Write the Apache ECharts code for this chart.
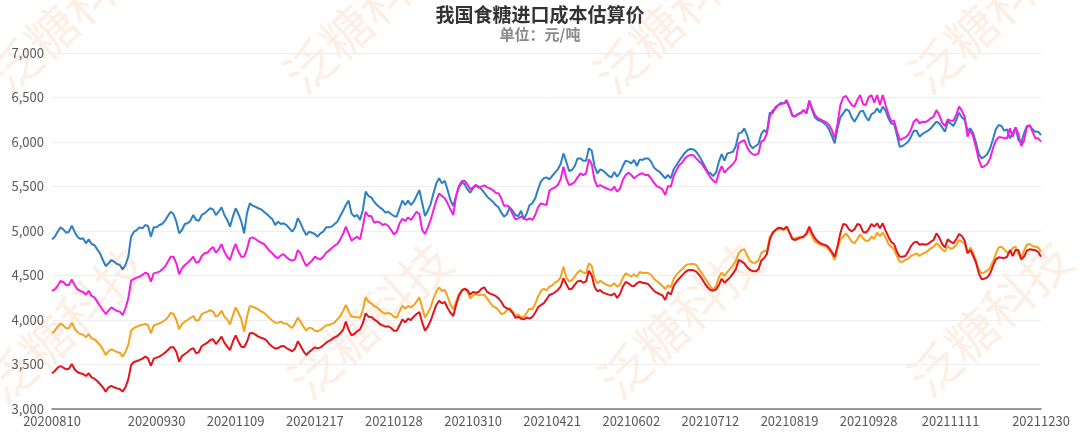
<!DOCTYPE html>
<html>
<head>
<meta charset="utf-8">
<script src="https://cdn.jsdelivr.net/npm/echarts@6/dist/echarts.min.js"></script>
<style>html,body{margin:0;padding:0;background:#fff;}#c{width:1080px;height:436px;}</style>
</head>
<body>
<div id="c"></div>
<script>
// ---- data ----
const START_DATE = '2020-08-10';
const END_DATE = '2021-12-30';
const HOLIDAYS = ['20201225','20210101','20210215','20210402','20210405','20210503','20210531',
  '20211001','20211004','20211005','20211224','20211227','20211228'];
const TICK_LABELS = ['20200810','20200930','20201109','20201217','20210128','20210310','20210421',
  '20210602','20210712','20210819','20210928','20211111','20211230'];
const Y_TICKS = [3000, 3500, 4000, 4500, 5000, 5500, 6000, 6500, 7000];

const blueSeries = [
4906,4936,4992,5041,5019,4981,4992,5060,4992,4936,
4910,4918,4861,4906,4854,4843,4794,4749,4674,4607,
4637,4674,4655,4629,4618,4569,4618,4711,4936,4992,
5011,5041,5030,5067,5056,4936,5041,5041,5067,5079,
5116,5168,5217,5191,5105,4974,5011,5079,5086,5116,
5180,5124,5116,5180,5198,5228,5255,5243,5180,5217,
5266,5180,5124,5049,5161,5255,5191,5105,4974,5198,
5311,5285,5273,5255,5243,5217,5191,5161,5131,5067,
5105,5079,5086,5067,5030,4992,5041,5142,5086,5011,
4955,4992,4981,4966,4936,4974,4992,5041,5041,5049,
5079,5105,5168,5228,5292,5341,5198,5161,5180,5124,
5236,5442,5393,5378,5329,5292,5266,5243,5206,5217,
5191,5168,5161,5255,5341,5292,5341,5292,5329,5393,
5460,5318,5168,5228,5303,5423,5535,5592,5535,5565,
5460,5348,5281,5393,5490,5543,5528,5468,5430,5479,
5517,5498,5468,5430,5386,5356,5329,5292,5266,5206,
5161,5191,5266,5228,5180,5168,5228,5131,5198,5292,
5311,5367,5468,5554,5592,5603,5580,5618,5655,5693,
5753,5872,5779,5674,5685,5730,5816,5816,5790,5790,
5929,5902,5730,5648,5693,5678,5648,5618,5603,5663,
5610,5655,5730,5790,5779,5760,5798,5730,5805,5798,
5816,5816,5779,5715,5685,5666,5629,5592,5629,5592,
5693,5741,5790,5835,5880,5910,5921,5917,5891,5842,
5790,5730,5666,5648,5618,5655,5779,5865,5790,5872,
5880,5891,5955,6097,6105,6153,6078,5966,5929,5955,
5977,6090,6135,6105,6329,6322,6389,6415,6442,6434,
6449,6389,6303,6284,6314,6322,6359,6322,6464,6359,
6277,6247,6236,6217,6191,6142,6067,5985,6153,6277,
6322,6367,6352,6277,6228,6284,6341,6352,6284,6240,
6314,6329,6378,6329,6397,6352,6266,6209,6202,6078,
5947,5955,5977,6003,6060,6127,6127,6060,6090,6108,
6127,6153,6191,6228,6209,6164,6116,6228,6209,6180,
6247,6329,6277,6247,6127,6153,6097,5992,5865,5816,
5835,5865,5929,6030,6142,6191,6180,6127,6142,6041,
6097,6164,6022,5992,6097,6180,6180,6142,6116,6116,6078];

const magentaSeries = [
4326,4344,4382,4438,4427,4393,4393,4457,4393,4344,
4326,4314,4284,4329,4270,4255,4206,4157,4112,4067,
4105,4142,4120,4101,4094,4056,4131,4243,4442,4461,
4476,4487,4506,4532,4517,4431,4524,4532,4543,4569,
4599,4655,4711,4711,4637,4513,4580,4618,4644,4674,
4711,4644,4655,4719,4749,4756,4794,4820,4756,4794,
4850,4768,4711,4674,4779,4854,4768,4711,4711,4794,
4917,4929,4910,4887,4869,4854,4816,4775,4749,4711,
4696,4726,4741,4704,4681,4667,4681,4786,4749,4667,
4607,4637,4667,4711,4693,4681,4711,4756,4779,4809,
4835,4854,4906,4966,5049,4974,4891,4917,4936,4906,
5049,5217,5168,5168,5093,5105,5097,5067,5079,5056,
5011,4962,4992,5086,5138,5112,5153,5124,5168,5217,
5191,5011,4966,5041,5124,5236,5341,5423,5393,5367,
5311,5243,5180,5393,5505,5558,5565,5524,5468,5490,
5517,5487,5498,5513,5490,5479,5460,5430,5423,5367,
5281,5288,5266,5191,5131,5142,5161,5142,5124,5142,
5124,5180,5266,5311,5300,5292,5453,5475,5490,5517,
5580,5723,5592,5517,5528,5554,5603,5648,5629,5648,
5805,5753,5573,5498,5517,5498,5483,5468,5460,5498,
5442,5475,5573,5629,5655,5629,5592,5618,5640,5648,
5629,5629,5592,5543,5505,5490,5468,5404,5505,5498,
5618,5685,5741,5768,5816,5842,5854,5850,5816,5783,
5753,5704,5655,5603,5565,5543,5655,5730,5655,5693,
5723,5753,5798,5985,6003,6022,5940,5891,5861,5854,
5872,6003,6022,6097,6284,6352,6375,6415,6427,6434,
6472,6389,6292,6292,6314,6329,6359,6322,6464,6378,
6303,6269,6254,6236,6221,6191,6135,6041,6209,6415,
6502,6517,6464,6415,6397,6472,6528,6427,6415,6502,
6528,6442,6528,6415,6528,6415,6314,6228,6239,6127,
6022,6037,6052,6078,6142,6228,6258,6209,6228,6224,
6239,6266,6284,6359,6303,6217,6180,6254,6239,6239,
6303,6397,6352,6284,6060,6142,6060,5940,5798,5715,
5730,5753,5816,5929,6015,6052,6052,6041,6041,6153,
6060,6164,6090,5955,6015,6164,6191,6116,6041,6041,6003];

const orangeSeries = [
3850,3880,3925,3962,3940,3906,3910,3970,3906,3865,
3843,3835,3805,3843,3794,3783,3753,3719,3670,3607,
3648,3670,3655,3640,3633,3588,3644,3719,3880,3910,
3925,3940,3947,3955,3940,3850,3940,3951,3962,3977,
4000,4030,4082,4067,4000,3895,3955,3981,4000,4022,
4045,3992,4000,4067,4082,4094,4112,4095,4037,4056,
4105,4037,4007,3951,4052,4142,4082,4007,3869,4037,
4157,4150,4135,4120,4097,4082,4052,4019,3992,3970,
3970,3981,3962,3962,3932,3910,3962,4026,3981,3925,
3880,3914,3906,3880,3873,3888,3914,3940,3944,3955,
3974,4007,4045,4101,4169,4094,4037,4037,4030,4026,
4112,4255,4206,4187,4157,4142,4112,4086,4071,4079,
4064,4037,4026,4097,4161,4127,4157,4142,4165,4206,
4255,4142,4026,4082,4142,4243,4318,4367,4326,4337,
4262,4176,4120,4206,4292,4337,4348,4318,4240,4277,
4292,4277,4285,4281,4243,4195,4157,4139,4112,4067,
4075,4112,4135,4094,4045,4060,4030,4037,4082,4127,
4120,4180,4262,4322,4352,4333,4374,4389,4419,4438,
4479,4599,4479,4434,4449,4487,4532,4558,4532,4524,
4637,4607,4468,4412,4442,4419,4401,4386,4386,4412,
4374,4397,4472,4524,4506,4487,4513,4487,4539,4528,
4532,4528,4506,4464,4438,4412,4382,4348,4389,4367,
4464,4506,4543,4573,4607,4625,4629,4629,4618,4569,
4524,4472,4427,4374,4344,4382,4479,4532,4494,4539,
4580,4614,4667,4749,4786,4794,4730,4667,4644,4644,
4667,4749,4779,4768,4936,4966,5004,5022,5019,5011,
5049,4981,4917,4917,4929,4936,4936,4955,5019,4936,
4880,4861,4846,4835,4824,4786,4741,4674,4805,4906,
4936,4974,4929,4880,4861,4906,4962,4917,4891,4891,
4936,4914,4981,4944,4981,4929,4854,4824,4794,4719,
4655,4655,4674,4689,4719,4734,4749,4719,4741,4756,
4779,4805,4824,4861,4835,4794,4771,4831,4801,4809,
4843,4899,4880,4861,4756,4816,4756,4667,4562,4524,
4535,4554,4592,4655,4741,4816,4824,4794,4760,4756,
4809,4824,4741,4693,4779,4846,4854,4831,4824,4816,4768];

const redSeries = [
3401,3427,3464,3483,3464,3446,3453,3506,3446,3416,
3401,3393,3371,3401,3356,3341,3315,3281,3244,3195,
3244,3259,3244,3232,3225,3195,3244,3333,3494,3528,
3539,3551,3566,3588,3569,3483,3566,3577,3588,3610,
3633,3663,3693,3693,3644,3532,3596,3618,3640,3670,
3685,3625,3640,3708,3727,3745,3775,3785,3730,3768,
3813,3745,3700,3663,3756,3828,3756,3700,3693,3756,
3850,3854,3835,3813,3801,3790,3768,3727,3700,3678,
3685,3704,3708,3685,3666,3648,3678,3760,3708,3648,
3607,3640,3666,3693,3681,3693,3715,3745,3764,3783,
3805,3820,3850,3888,3981,3888,3828,3843,3873,3895,
3962,4075,4037,4034,4007,3985,3955,3940,3925,3929,
3910,3880,3880,3940,4007,3974,4015,4000,4037,4067,
4090,3974,3880,3925,3992,4082,4169,4217,4187,4202,
4135,4082,4045,4169,4270,4326,4352,4337,4285,4315,
4307,4315,4352,4367,4315,4296,4285,4270,4243,4206,
4150,4131,4116,4082,4026,4034,4015,4007,4030,4015,
4034,4082,4142,4169,4187,4232,4281,4292,4311,4337,
4374,4468,4404,4344,4352,4397,4434,4442,4419,4434,
4554,4502,4374,4322,4337,4307,4296,4285,4277,4300,
4247,4292,4374,4427,4412,4386,4382,4412,4431,4419,
4412,4404,4367,4329,4307,4292,4277,4225,4315,4285,
4382,4431,4468,4502,4535,4558,4562,4558,4543,4509,
4464,4412,4367,4337,4329,4344,4393,4464,4419,4449,
4479,4524,4569,4674,4659,4637,4592,4562,4550,4547,
4569,4667,4693,4741,4899,4981,5011,5037,5034,5019,
5049,4981,4910,4899,4914,4925,4936,4974,5049,4974,
4918,4884,4861,4850,4839,4809,4764,4711,4831,4974,
5079,5071,5019,4996,5019,5079,5067,4992,4981,5019,
5079,5049,5086,5030,5086,5004,4936,4876,4854,4768,
4711,4711,4719,4768,4831,4869,4880,4846,4854,4846,
4854,4880,4899,4974,4929,4854,4816,4906,4880,4861,
4906,4966,4944,4891,4749,4786,4719,4644,4524,4457,
4464,4479,4524,4607,4681,4704,4700,4696,4711,4786,
4719,4786,4786,4681,4711,4779,4794,4790,4783,4764,4711];

// ---- trading-day categories ----
function fmt(d) {
  const m = d.getUTCMonth() + 1, dd = d.getUTCDate();
  return '' + d.getUTCFullYear() + (m < 10 ? '0' : '') + m + (dd < 10 ? '0' : '') + dd;
}
function tradingDays() {
  const out = [];
  const d = new Date(START_DATE + 'T00:00:00Z');
  const end = new Date(END_DATE + 'T00:00:00Z');
  while (d <= end) {
    const wd = d.getUTCDay();
    const s = fmt(d);
    if (wd !== 0 && wd !== 6 && HOLIDAYS.indexOf(s) < 0) out.push(s);
    d.setUTCDate(d.getUTCDate() + 1);
  }
  return out;
}
const categories = tradingDays();

// ---- watermark ----
const WM_TEXT = '泛糖科技';
const wmPos = [[70, 15], [365, 15], [675, 15], [990, 15], [65, 325], [370, 320], [680, 320], [990, 318]];
const graphics = wmPos.map(p => ({
  type: 'text', x: p[0], y: p[1], rotation: Math.PI / 4.2, silent: true, z: -10,
  style: { text: WM_TEXT, fill: 'rgba(244,168,108,0.18)', font: '50px "Noto Sans CJK SC"',
           align: 'center', verticalAlign: 'middle' }
}));

const chart = echarts.init(document.getElementById('c'), null, { renderer: 'canvas' });
const FONT = '"Noto Sans CJK SC", "Noto Sans", sans-serif';
function line(name, data, color) {
  return { name: name, type: 'line', data: data, showSymbol: false, symbol: 'none',
           lineStyle: { width: 2, color: color }, itemStyle: { color: color } };
}
chart.setOption({
  animation: false,
  backgroundColor: '#ffffff',
  graphic: graphics,
  title: {
    text: '我国食糖进口成本估算价',
    subtext: '单位：元/吨',
    left: 'center', top: 0, itemGap: 3,
    textStyle: { fontFamily: FONT, fontSize: 19, fontWeight: 'bold', color: '#333' },
    subtextStyle: { fontFamily: FONT, fontSize: 15, fontWeight: 'bold', color: '#8a8a8a' }
  },
  grid: { left: 52, right: 39, top: 53, bottom: 27, containLabel: false },
  xAxis: {
    type: 'category', data: categories, boundaryGap: false,
    axisLine: { lineStyle: { color: '#7a7a7a', width: 1.5 } },
    axisTick: { show: false },
    axisLabel: {
      interval: function (idx, val) { return TICK_LABELS.indexOf(val) >= 0; },
      color: '#595959', fontSize: 13, fontFamily: FONT, margin: 6
    }
  },
  yAxis: {
    type: 'value', min: Y_TICKS[0], max: Y_TICKS[Y_TICKS.length - 1], interval: 500,
    axisLine: { show: false }, axisTick: { show: false },
    splitLine: { lineStyle: { color: '#eeeeee', width: 1 } },
    axisLabel: { color: '#595959', fontSize: 13, fontFamily: FONT, margin: 8,
      formatter: v => v.toLocaleString('en-US') }
  },
  series: [
    line('进口成本估算价1', blueSeries, '#2f7fc2'),
    line('进口成本估算价2', magentaSeries, '#f21fe0'),
    line('进口成本估算价3', orangeSeries, '#f5a21c'),
    line('进口成本估算价4', redSeries, '#e4131d')
  ]
});
</script>
</body>
</html>
